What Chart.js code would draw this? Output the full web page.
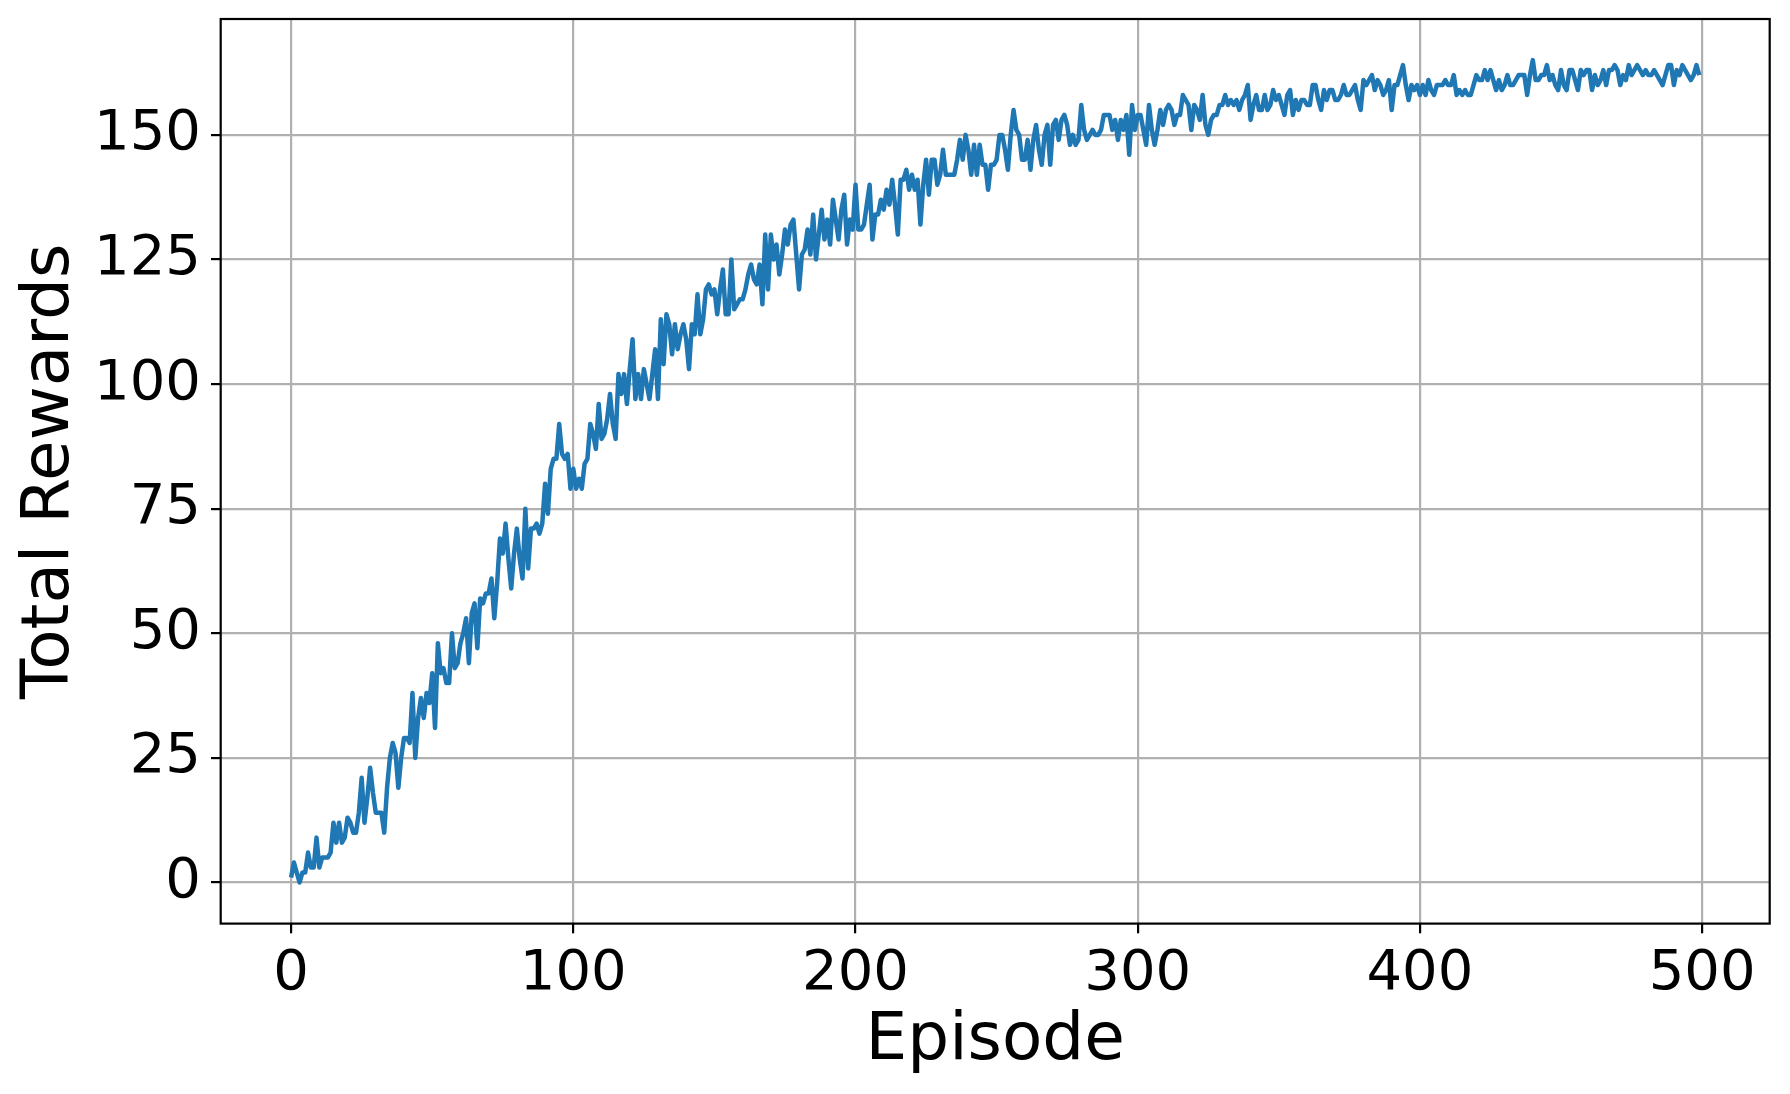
<!DOCTYPE html>
<html>
<head>
<meta charset="utf-8">
<script src="https://cdn.jsdelivr.net/npm/chart.js@4"></script>
<style>
  html, body { margin: 0; padding: 0; background: #fff; }
</style>
</head>
<body>
<canvas id="myChart" width="1790" height="1094"></canvas>
<script>
// total reward per episode (episode 0..499)
var rewards = [
  1, 4, 2, 0, 2, 2, 6, 3, 3, 9,
  3, 5, 5, 5, 6, 12, 8, 12, 8, 9,
  13, 12, 10, 10, 14, 21, 12, 17, 23, 18,
  14, 14, 14, 10, 19, 25, 28, 26, 19, 25,
  29, 29, 28, 38, 25, 33, 37, 33, 38, 36,
  42, 31, 48, 42, 43, 40, 40, 50, 43, 44,
  48, 50, 53, 44, 54, 56, 47, 57, 56, 58,
  58, 61, 53, 60, 69, 66, 72, 65, 59, 66,
  71, 65, 61, 75, 63, 71, 71, 72, 70, 72,
  80, 74, 83, 85, 85, 92, 86, 85, 86, 79,
  83, 79, 81, 79, 84, 85, 92, 90, 87, 96,
  89, 90, 93, 98, 92, 89, 102, 98, 102, 96,
  103, 109, 97, 102, 97, 103, 100, 97, 102, 107,
  97, 113, 104, 114, 112, 106, 112, 107, 110, 112,
  109, 103, 112, 110, 118, 110, 113, 119, 120, 118,
  119, 114, 119, 123, 114, 114, 125, 115, 116, 117,
  117, 119, 122, 124, 121, 120, 124, 116, 130, 119,
  130, 125, 128, 122, 126, 131, 128, 132, 133, 126,
  119, 126, 127, 131, 126, 134, 125, 130, 135, 129,
  133, 128, 137, 133, 129, 135, 138, 128, 133, 131,
  140, 131, 131, 132, 136, 140, 129, 134, 134, 137,
  135, 139, 136, 141, 136, 130, 141, 141, 143, 139,
  142, 139, 141, 132, 140, 145, 138, 145, 145, 140,
  142, 147, 142, 142, 142, 142, 145, 149, 145, 150,
  147, 142, 148, 142, 148, 144, 144, 139, 144, 144,
  145, 150, 150, 147, 143, 150, 155, 151, 150, 145,
  145, 149, 143, 149, 152, 147, 144, 150, 152, 144,
  152, 153, 149, 153, 154, 152, 148, 150, 148, 149,
  156, 151, 149, 150, 151, 150, 150, 151, 154, 154,
  154, 151, 153, 149, 153, 151, 154, 146, 156, 151,
  154, 154, 151, 148, 156, 151, 148, 151, 155, 152,
  155, 156, 155, 152, 154, 154, 158, 157, 156, 151,
  156, 155, 153, 158, 152, 150, 153, 154, 154, 156,
  156, 158, 156, 157, 156, 157, 155, 157, 158, 160,
  153, 156, 158, 155, 155, 158, 155, 156, 159, 157,
  158, 156, 154, 158, 159, 154, 157, 155, 157, 157,
  156, 156, 160, 160, 157, 155, 159, 157, 159, 159,
  157, 157, 158, 160, 158, 158, 159, 160, 157, 155,
  161, 160, 161, 162, 159, 161, 160, 158, 159, 161,
  155, 160, 160, 162, 164, 160, 157, 160, 159, 160,
  158, 160, 158, 161, 159, 158, 160, 160, 160, 161,
  160, 160, 162, 158, 159, 158, 159, 158, 158, 160,
  162, 161, 161, 163, 161, 163, 161, 159, 161, 159,
  160, 162, 160, 160, 161, 162, 162, 162, 158, 162,
  165, 161, 161, 162, 162, 164, 161, 162, 160, 159,
  163, 160, 159, 163, 163, 161, 159, 163, 162, 163,
  163, 159, 162, 160, 161, 163, 160, 163, 163, 164,
  163, 160, 162, 161, 164, 162, 163, 164, 163, 162,
  163, 162, 162, 163, 162, 161, 160, 162, 164, 164,
  160, 163, 162, 164, 163, 162, 161, 162, 164, 162
];
var episodes = rewards.map(function (r, i) { return i; });
var xTicks = [0, 100, 200, 300, 400, 500];
var yTicks = [0, 25, 50, 75, 100, 125, 150];

// black box round the plot area, like matplotlib spines
var frame = {
  id: 'frame',
  afterDatasetsDraw: function (chart) {
    var a = chart.chartArea;
    var c = chart.ctx;
    c.save();
    c.strokeStyle = '#000';
    c.lineWidth = 2.2;
    c.strokeRect(a.left, a.top, a.right - a.left, a.bottom - a.top);
    c.restore();
  }
};

Chart.defaults.font.family = 'DejaVu Sans';
Chart.defaults.color = '#000';

var grid = { color: '#b0b0b0', lineWidth: 2.2, tickLength: 9.7, tickColor: '#000', tickWidth: 2.2 };

// fixed axis sizes so the plot area sits where it does in the picture
function fitX(s) {
  s.height = 170.4;
  s.paddingLeft = 0; s.paddingRight = 0; s.paddingTop = 0; s.paddingBottom = 0;
}
function fitY(s) {
  s.width = 220.7;
  s.paddingLeft = 0; s.paddingRight = 0; s.paddingTop = 0; s.paddingBottom = 0;
}

var ctx = document.getElementById('myChart').getContext('2d');
var myChart = new Chart(ctx, {
  type: 'line',
  data: {
    datasets: [{
      label: 'Total Rewards',
      data: episodes.map(function (e, i) { return { x: e, y: rewards[i] }; }),
      borderColor: '#1f77b4',
      borderWidth: 4.5,
      borderJoinStyle: 'round',
      pointRadius: 0,
      fill: false,
      tension: 0
    }]
  },
  plugins: [frame],
  options: {
    responsive: false,
    animation: false,
    devicePixelRatio: 1,
    layout: { padding: { left: 0, top: 19, right: 20.3, bottom: 0 } },
    plugins: { legend: { display: false }, tooltip: { enabled: false } },
    scales: {
      x: {
        type: 'linear',
        min: -24.95,
        max: 523.95,
        afterBuildTicks: function (s) { s.ticks = xTicks.map(function (v) { return { value: v }; }); },
        afterFit: fitX,
        grid: grid,
        border: { display: false },
        ticks: { font: { size: 56 }, color: '#000', padding: 8, maxRotation: 0, autoSkip: false },
        title: { display: true, text: 'Episode', font: { size: 66 }, color: '#000', padding: { top: 0, bottom: 13 } }
      },
      y: {
        type: 'linear',
        min: -8.25,
        max: 173.25,
        afterBuildTicks: function (s) { s.ticks = yTicks.map(function (v) { return { value: v }; }); },
        afterFit: fitY,
        grid: grid,
        border: { display: false },
        ticks: { font: { size: 56 }, color: '#000', padding: 10, autoSkip: false },
        title: { display: true, text: 'Total Rewards', font: { size: 66 }, color: '#000', padding: { top: 11, bottom: 0 } }
      }
    }
  }
});
</script>
</body>
</html>
